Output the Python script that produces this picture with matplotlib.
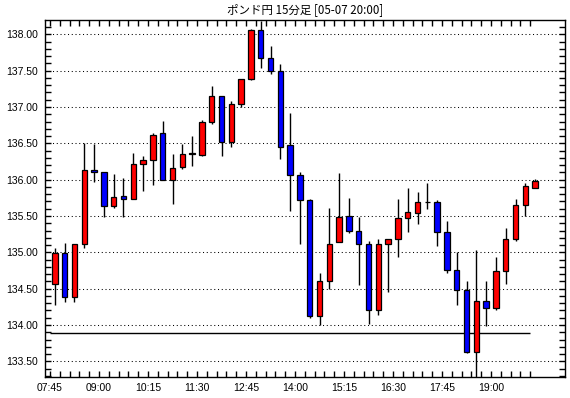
import numpy as np
import matplotlib
matplotlib.use('Agg')
import matplotlib.pyplot as plt
import matplotlib.ticker as ticker

# 15 minute candles, 07:45 .. 20:00
opens = [134.56, 134.99, 134.38, 135.11, 136.13, 136.10, 135.64, 135.77, 135.74, 136.21,
         136.27, 136.64, 135.99, 136.17, 136.35, 136.34, 136.79, 137.15, 136.52, 137.04,
         137.39, 138.06, 137.68, 137.50, 136.47, 136.07, 135.72, 134.12, 134.60, 135.14,
         135.50, 135.30, 135.12, 134.20, 135.12, 135.18, 135.47, 135.54, 135.69, 135.69,
         135.28, 134.75, 134.48, 133.63, 134.33, 134.23, 134.74, 135.18, 135.65, 135.89]
closes = [134.99, 134.38, 135.11, 136.13, 136.10, 135.64, 135.76, 135.74, 136.22, 136.27,
          136.62, 135.99, 136.16, 136.35, 136.36, 136.79, 137.15, 136.52, 137.04, 137.39,
          138.06, 137.68, 137.50, 136.45, 136.07, 135.72, 134.12, 134.60, 135.12, 135.48,
          135.29, 135.12, 134.20, 135.12, 135.18, 135.47, 135.55, 135.69, 135.69, 135.28,
          134.75, 134.48, 133.63, 134.33, 134.23, 134.74, 135.18, 135.65, 135.91, 135.98]
highs = [135.06, 135.13, 135.11, 136.51, 136.49, 136.10, 136.08, 136.02, 136.37, 136.33,
         136.64, 136.81, 136.35, 136.49, 136.60, 136.82, 137.29, 137.15, 137.08, 137.39,
         138.07, 138.19, 137.84, 137.59, 136.92, 136.10, 135.74, 134.71, 135.61, 136.09,
         135.75, 135.48, 135.16, 135.18, 135.19, 135.73, 135.89, 135.83, 135.95, 135.72,
         135.43, 135.00, 134.61, 135.03, 134.61, 134.94, 135.33, 135.73, 135.95, 136.01]
lows = [134.28, 134.32, 134.31, 135.06, 135.97, 135.49, 135.61, 135.48, 135.74, 135.85,
        135.93, 135.99, 135.66, 136.14, 136.19, 136.33, 136.77, 136.32, 136.45, 137.00,
        137.37, 137.54, 137.46, 136.28, 135.57, 135.11, 134.09, 134.00, 134.50, 135.14,
        135.27, 134.55, 134.01, 134.14, 134.45, 134.93, 135.28, 135.39, 135.60, 135.08,
        134.72, 134.27, 133.61, 133.25, 133.98, 134.20, 134.57, 135.15, 135.50, 135.89]
time_labels = ['07:45', '09:00', '10:15', '11:30', '12:45',
               '14:00', '15:15', '16:30', '17:45', '19:00']
ref_level = 133.89
title = 'ポンド円 15分足 [05-07 20:00]'


def main():
    o = np.array(opens)
    c = np.array(closes)
    n = len(o)
    x = np.arange(n) + 0.5
    up = c >= o
    colors = np.where(up, '#ff0000', '#0000ff')

    fig = plt.figure(figsize=(5.7, 3.98), dpi=100)
    ax = fig.add_axes([45 / 570, 1 - 377 / 398, 520 / 570, 357 / 398])

    # dotted grid
    for v in np.arange(133.5, 138.01, 0.5):
        ax.axhline(v, color='black', lw=0.75, ls=(0, (1, 2.6)), zorder=1)

    # reference line
    ax.hlines(ref_level, 0, n - 1, color='black', lw=1, zorder=2)

    # wicks and bodies
    ax.vlines(x, lows, highs, color='black', lw=1, zorder=3)
    ax.bar(x, c - o, bottom=o, width=0.55, color=colors,
           edgecolor='black', linewidth=0.9, zorder=4)

    ax.set_xlim(-0.51, 52.55)
    ax.set_ylim(133.284, 138.197)

    ax.xaxis.set_major_locator(ticker.FixedLocator(np.arange(0, n, 5)))
    ax.xaxis.set_minor_locator(ticker.FixedLocator(np.arange(0, n)))
    ax.set_xticklabels(time_labels)
    ax.yaxis.set_major_locator(ticker.MultipleLocator(0.5))
    ax.yaxis.set_minor_locator(ticker.MultipleLocator(0.1))
    ax.yaxis.set_major_formatter(ticker.FormatStrFormatter('%.2f'))

    ax.tick_params(which='both', direction='in', top=True, right=True,
                   length=4, width=1, color='black')
    ax.tick_params(axis='y', pad=5)
    ax.tick_params(axis='x', pad=4)
    for lab in ax.get_xticklabels() + ax.get_yticklabels():
        lab.set_fontfamily('Liberation Sans')
        lab.set_fontsize(7.5)

    for sp in ax.spines.values():
        sp.set_linewidth(1)
        sp.set_color('black')

    fig.text(305 / 570, 1 - 10 / 398, title, ha='center', va='center',
             fontsize=8.3, family=['Noto Sans CJK JP', 'DejaVu Sans'])

    fig.savefig('out.png', dpi=100)


if __name__ == "__main__":
    main()
